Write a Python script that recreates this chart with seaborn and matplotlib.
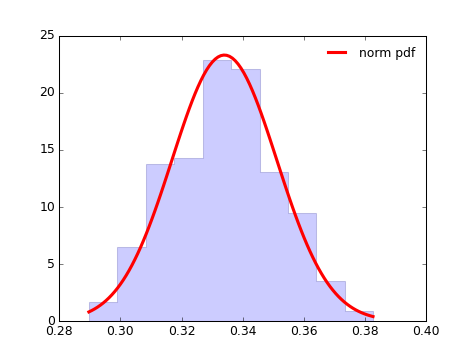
import matplotlib
matplotlib.use('Agg')
import matplotlib.pyplot as plt
import numpy as np
import seaborn as sns

# histogram (density)
bin_edges = [0.2897, 0.2990, 0.3083, 0.3176, 0.3269, 0.3362,
             0.3455, 0.3547, 0.3640, 0.3733, 0.3826]
bin_heights = [1.7, 6.5, 13.8, 14.3, 22.9, 22.1, 13.1, 9.5, 3.5, 0.9]

# fitted normal parameters
fit_mean = 0.3340
fit_std = 0.01712

plt.style.use('classic')

fig, ax = plt.subplots(figsize=(6.4, 4.825), dpi=74)

edges = np.array(bin_edges)
centers = (edges[:-1] + edges[1:]) / 2
sns.histplot(x=centers, weights=bin_heights, bins=bin_edges, stat='count',
             element='step', fill=True, color='b', alpha=0.2,
             edgecolor=(0.2, 0.2, 0.6, 0.25), linewidth=1, ax=ax)

# norm pdf over the data range
xs = np.linspace(edges[0], edges[-1], 100)
pdf = np.exp(-0.5 * ((xs - fit_mean) / fit_std) ** 2) / (fit_std * np.sqrt(2 * np.pi))
sns.lineplot(x=xs, y=pdf, color='r', lw=3, label='norm pdf', ax=ax)

ax.set_xlim(0.28, 0.40)
ax.set_ylim(0, 25)
ax.set_xlabel('')
ax.set_ylabel('')
ax.legend(loc='best', frameon=False, fontsize='medium')

fig.savefig('out.png', dpi=74)
